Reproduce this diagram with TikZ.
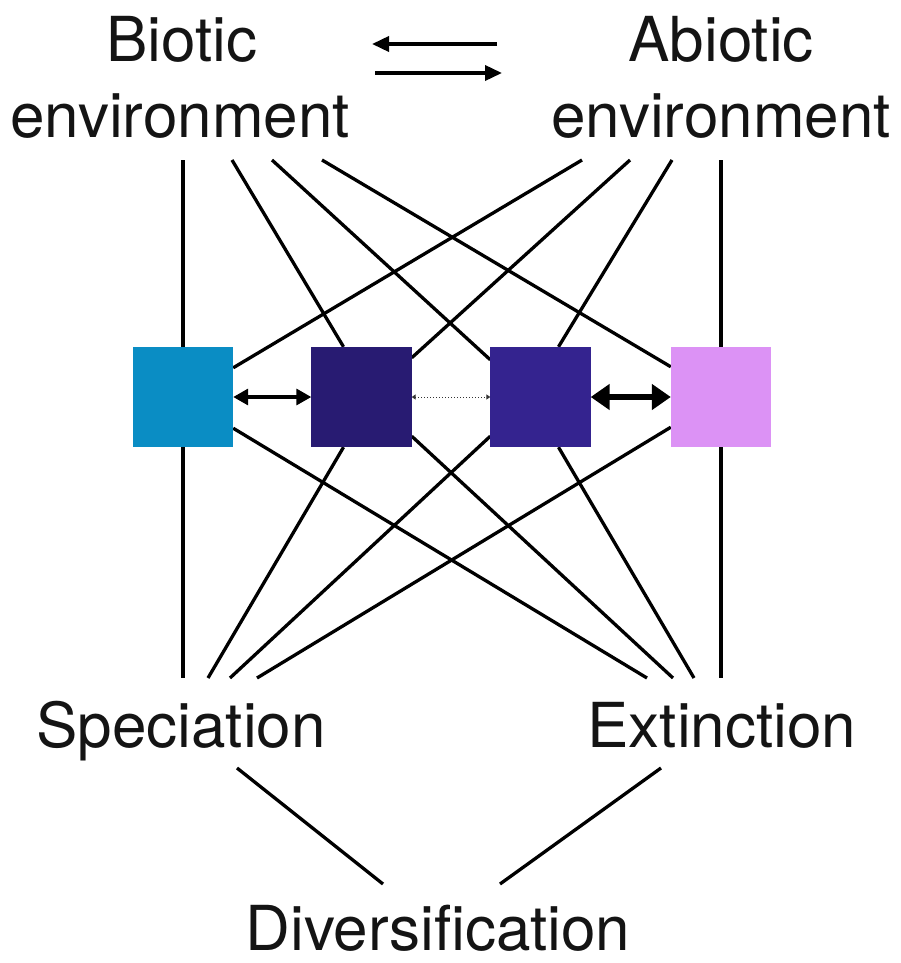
\documentclass[tikz,border=0pt]{standalone}
\usepackage{fontspec}
\setmainfont{TeX Gyre Heros}
\usetikzlibrary{arrows.meta,calc}

\definecolor{tcyan}{HTML}{0A8DC4}
\definecolor{tindigo}{HTML}{281B72}
\definecolor{tviolet}{HTML}{34238F}
\definecolor{tlilac}{HTML}{DC92F5}

\begin{document}
\begin{tikzpicture}[x=1pt,y=-1pt,
  txt/.style={font=\fontsize{62}{62}\selectfont, inner sep=0pt, anchor=base, text=black!92},
  taxon/.style={minimum width=100pt, minimum height=100pt, inner sep=0pt, draw=none},
  conn/.style={line width=3.3pt, black},
  flux/.style={line width=3.6pt, -{Triangle[length=17pt,width=15pt]}},
]
\path[use as bounding box] (0,0) rectangle (900,963);

% headings and outcomes
\node[txt] (bio1)  at (182,62)  {Biotic};
\node[txt] (bio2)  at (180,137) {environment};
\node[txt] (abio1) at (721,62)  {Abiotic};
\node[txt] (abio2) at (721,137) {environment};
\node[txt] (spec)  at (181,747) {Speciation};
\node[txt] (ext)   at (722,747) {Extinction};
\node[txt] (div)   at (438,950) {Diversification};

% two-way exchange between the environments
\coordinate (l1) at (497,44);
\coordinate (l2) at (372,44);
\coordinate (r1) at (375,73);
\coordinate (r2) at (502,73);
\draw[flux] (l1) -- (l2);
\draw[flux] (r1) -- (r2);

% the four taxa
\node[taxon] (t1) at (183,397) {};
\node[taxon] (t2) at (361.5,397) {};
\node[taxon] (t3) at (540.5,397) {};
\node[taxon] (t4) at (721,397) {};

% attachment points under the headings and above the outcomes
\coordinate (b1) at (183,160);
\coordinate (b2) at (232,160);
\coordinate (b3) at (272,160);
\coordinate (b4) at (322,160);
\coordinate (a1) at (582,160);
\coordinate (a2) at (630,160);
\coordinate (a3) at (672,160);
\coordinate (a4) at (721,160);
\coordinate (s1) at (183,678);
\coordinate (s2) at (208,678);
\coordinate (s3) at (230,678);
\coordinate (s4) at (257,678);
\coordinate (e1) at (647,678);
\coordinate (e2) at (673,678);
\coordinate (e3) at (694,678);
\coordinate (e4) at (721,678);
\coordinate (sd) at (237,768);
\coordinate (dl) at (383,884);
\coordinate (ed) at (661,768);
\coordinate (dr) at (500,884);

% environment -> taxa
\draw[conn] (b1) -- (t1.north);
\draw[conn] (b2) -- ($(t2.north)+(-18,0)$);
\draw[conn] (b3) -- ($(t3.north west)+(0,13)$);
\draw[conn] (b4) -- ($(t4.north west)+(0,20)$);
\draw[conn] (a1) -- ($(t1.north east)+(0,21)$);
\draw[conn] (a2) -- ($(t2.north east)+(0,11)$);
\draw[conn] (a3) -- ($(t3.north)+(18,0)$);
\draw[conn] (a4) -- (t4.north);

% taxa -> speciation / extinction
\draw[conn] (t1.south) -- (s1);
\draw[conn] ($(t2.south)+(-18,0)$) -- (s2);
\draw[conn] ($(t3.south west)+(0,-11)$) -- (s3);
\draw[conn] ($(t4.south west)+(0,-20)$) -- (s4);
\draw[conn] ($(t1.south east)+(0,-19)$) -- (e1);
\draw[conn] ($(t2.south east)+(0,-11)$) -- (e2);
\draw[conn] ($(t3.south)+(18,0)$) -- (e3);
\draw[conn] (t4.south) -- (e4);

% outcomes -> diversification
\draw[conn] (sd) -- (dl);
\draw[conn] (ed) -- (dr);

% filled taxa on top of the lines
\fill[tcyan]   (t1.south west) rectangle (t1.north east);
\fill[tindigo] (t2.south west) rectangle (t2.north east);
\fill[tviolet] (t3.south west) rectangle (t3.north east);
\fill[tlilac]  (t4.south west) rectangle (t4.north east);

% interactions between neighbouring taxa
\draw[line width=3.3pt, {Triangle[length=15pt,width=16pt]}-{Triangle[length=15pt,width=16pt]}]
  (t1.east) -- (t2.west);
\draw[line width=1pt, dotted, black!80, {Triangle[length=4pt,width=5pt]}-{Triangle[length=4pt,width=5pt]}]
  (t2.east) -- (t3.west);
\draw[line width=6pt, {Triangle[length=19pt,width=25pt]}-{Triangle[length=19pt,width=25pt]}]
  (t3.east) -- (t4.west);
\end{tikzpicture}
\end{document}
